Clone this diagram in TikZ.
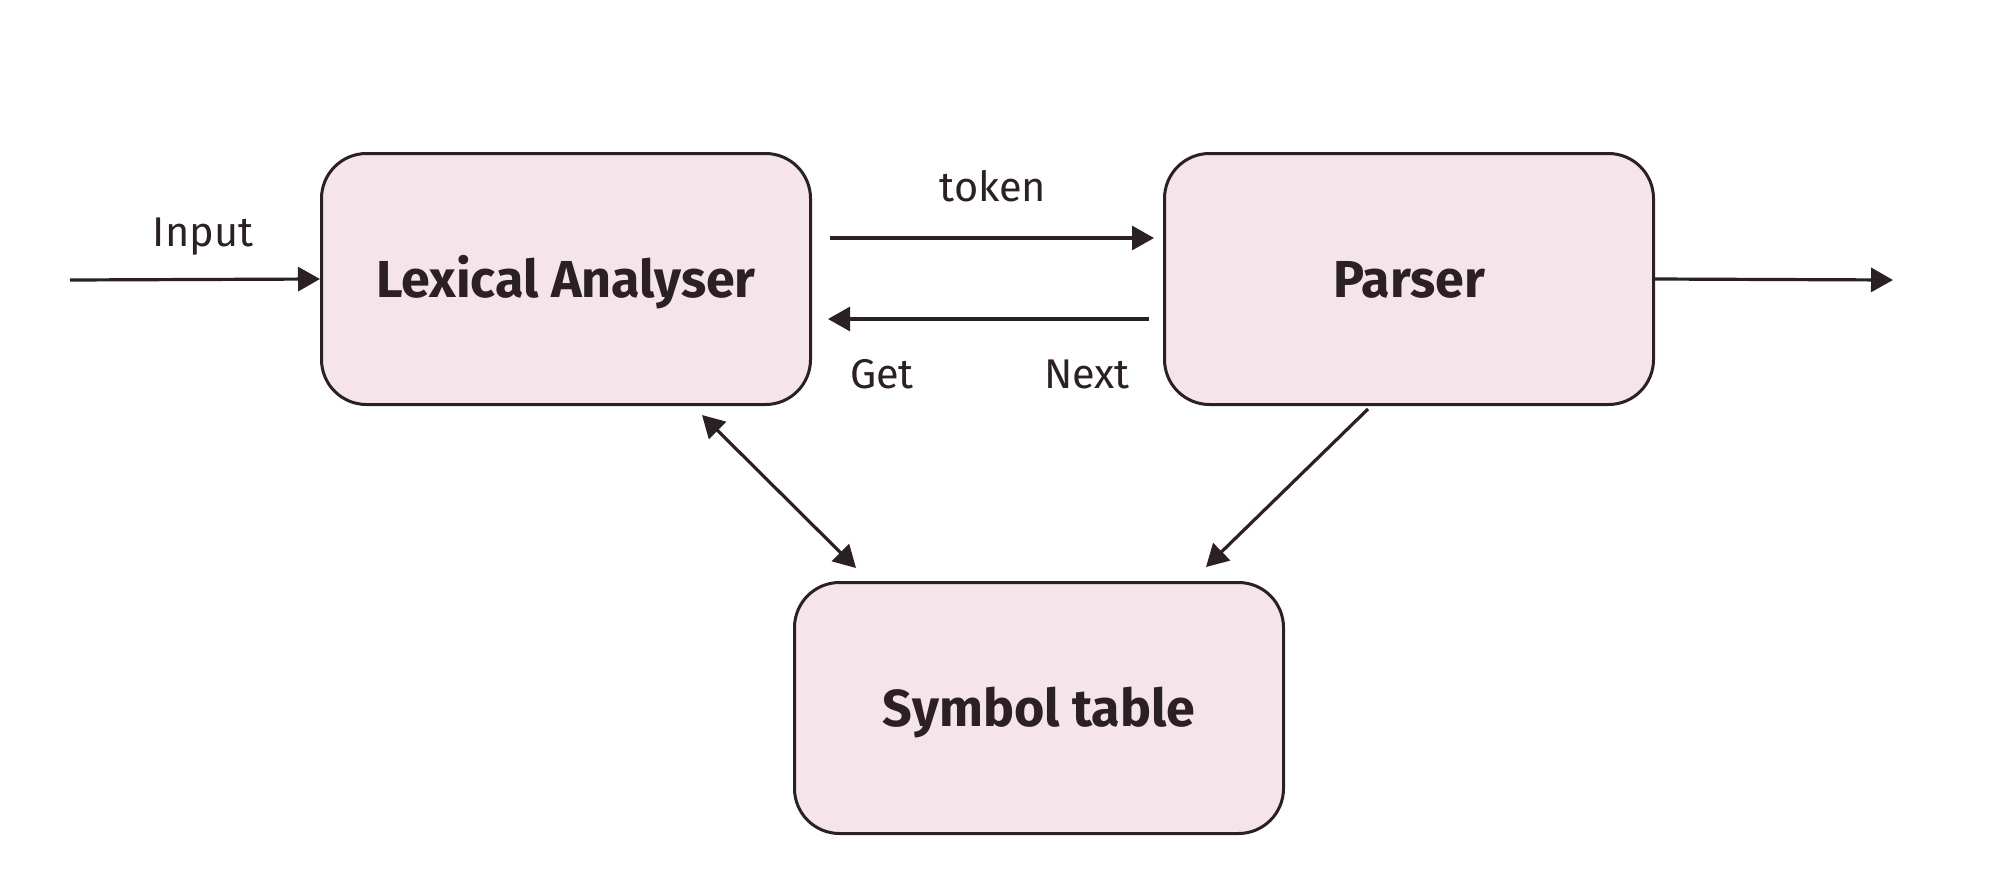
\documentclass[tikz,border=0pt]{standalone}
\usepackage{fontspec}
\setmainfont{Fira Sans}
\usetikzlibrary{arrows.meta}
\definecolor{boxfill}{HTML}{F5E4EA}
\definecolor{ink}{HTML}{2A2025}
\begin{document}
\begin{tikzpicture}[x=1pt,y=-1pt,
 box/.style={draw=ink, fill=boxfill, line width=3pt, rounded corners=45pt, minimum width=489pt, minimum height=251pt, font=\fontsize{52}{60}\selectfont\bfseries, text=ink, inner sep=0pt, text height=36pt, text depth=0pt},
 tip/.style={Triangle[length=22pt,width=24pt]},
 conn/.style={draw=ink, line width=3.2pt, -{Triangle[length=22pt,width=24pt]}},
 dconn/.style={draw=ink, line width=3.2pt, {Triangle[length=22pt,width=24pt]}-{Triangle[length=22pt,width=24pt]}},
 lbl/.style={font=\fontsize{41.5}{48}\selectfont, text=ink, inner sep=0pt}]
\useasboundingbox (0,0) rectangle (2010,868);
\node[box] (lex) at (566,279) {Lexical Analyser};
\node[box] (par) at (1409,279) {Parser};
\node[box] (sym) at (1039,708) {Symbol table};
\coordinate (in) at (70,280);
\coordinate (out) at (1893,280);
\draw[conn] (in) -- (lex.west);
\draw[conn] (par.east) -- (out);
\draw[conn] ([shift={(18,-41)}]lex.east) -- ([shift={(-9,-41)}]par.west);
\draw[conn] ([shift={(-14,40)}]par.west) -- ([shift={(16,40)}]lex.east);
\draw[dconn] ([shift={(136,9)}]lex.south) -- ([shift={(-183,-13)}]sym.north);
\draw[conn] ([shift={(-41,3)}]par.south) -- ([shift={(167,-14)}]sym.north);
\node[lbl] (linput) at (203,237) {Input};
\node[lbl] (ltoken) at (993,186) {token};
\node[lbl] (lget) at (882,374) {Get};
\node[lbl] (lnext) at (1087,374) {Next};
\end{tikzpicture}
\end{document}
